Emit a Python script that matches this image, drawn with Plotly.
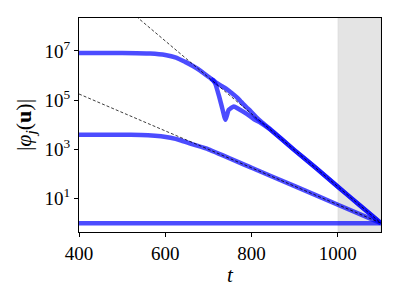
import plotly.graph_objects as go

# ---- data ----
t_a = [400, 500, 565, 600, 625, 646, 665, 681, 700, 711, 716, 730, 740, 750, 758, 766, 774,
       782, 790, 798, 810, 821, 840, 900, 950, 1000, 1050, 1100]
v_a = [8.3e6, 8.3e6, 7.9e6, 6.9e6, 5.4e6, 3.6e6, 2.4e6, 1.6e6, 8.9e5, 6.5e5, 5.5e5, 3.8e5,
       3.0e5, 2.2e5, 1.7e5, 1.3e5, 9.3e4, 6.6e4, 4.8e4, 3.5e4, 2.1e4, 1.4e4, 7.4e3,
       9.1e2, 1.7e2, 30, 5.5, 1.0]

# second upper curve: identical to the first before t≈711, so only drawn from the split on
t_b = [706, 711, 716, 724, 732, 739.5, 747, 759,
       770, 786, 805, 821, 840, 900, 950, 1000, 1050, 1100]
v_b = [7.5e5, 6.3e5, 4.6e5, 1.6e5,
       4.7e4, 1.6e4, 4.0e4, 5.5e4, 4.4e4, 3.0e4, 1.7e4, 1.2e4, 7.0e3,
       9.1e2, 1.7e2, 30, 5.5, 1.0]

t_c = [400, 520, 560, 590, 612, 635, 660, 700, 800, 900, 1000, 1100]
v_c = [3.9e3, 3.9e3, 3.75e3, 3.4e3, 2.95e3, 2.35e3, 1.66e3, 1.0e3, 1.78e2, 32, 5.6, 1.0]

t_d = [400, 1100]
v_d = [1.0, 1.0]

t_fit = [400, 1100]
v_fit1 = [2.34e10, 1.0]
v_fit2 = [1.78e5, 1.0]

shade_span = [1000, 1100]
x_ticks = [400, 600, 800, 1000]
y_ticks = [1e1, 1e3, 1e5, 1e7]
y_ticklabels = ["10<sup>1</sup>", "10<sup>3</sup>", "10<sup>5</sup>", "10<sup>7</sup>"]

FONT = "Liberation Serif"
blue = "rgba(0,0,255,0.7)"

fig = go.Figure()
for tt, vv in [(t_d, v_d), (t_c, v_c), (t_b, v_b), (t_a, v_a)]:
    fig.add_trace(go.Scatter(x=tt, y=vv, mode="lines",
                             line=dict(color=blue, width=4.5, shape="spline", smoothing=0.5),
                             showlegend=False))
for vv in (v_fit1, v_fit2):
    fig.add_trace(go.Scatter(x=t_fit, y=vv, mode="lines",
                             line=dict(color="rgba(0,0,0,0.85)", width=0.9, dash="3px,2px"),
                             showlegend=False))

fig.add_shape(type="rect", xref="x", yref="paper", x0=shade_span[0], x1=shade_span[1],
              y0=0, y1=1, fillcolor="rgba(128,128,128,0.21)",
              line=dict(width=1, color="rgba(0,0,0,0.05)"), layer="below")

# page body has an 8px margin; size the figure so the plot area lands where the reference's does
fig.update_layout(
    width=391, height=291,
    margin=dict(l=71, r=18, t=10, b=67),
    paper_bgcolor="white", plot_bgcolor="white",
    font=dict(family=FONT, size=19, color="black"),
    xaxis=dict(range=[400, 1100], tickvals=x_ticks, ticks="outside", ticklen=4,
               tickwidth=1, tickcolor="black", showline=True, mirror=True,
               linecolor="black", linewidth=1, showgrid=False, zeroline=False,
               title=dict(text="<i>t</i>", standoff=4, font=dict(size=21))),
    yaxis=dict(type="log", range=[-0.36, 8.34], tickvals=y_ticks, ticktext=y_ticklabels,
               ticks="outside", ticklen=4, tickwidth=1, tickcolor="black",
               showline=True, mirror=True, linecolor="black", linewidth=1,
               showgrid=False, zeroline=False,
               title=dict(text="|<i>φ</i><sub><i>j</i></sub>(<b>u</b>)|", standoff=6,
                          font=dict(size=22))),
)

fig.write_html("out.html")
